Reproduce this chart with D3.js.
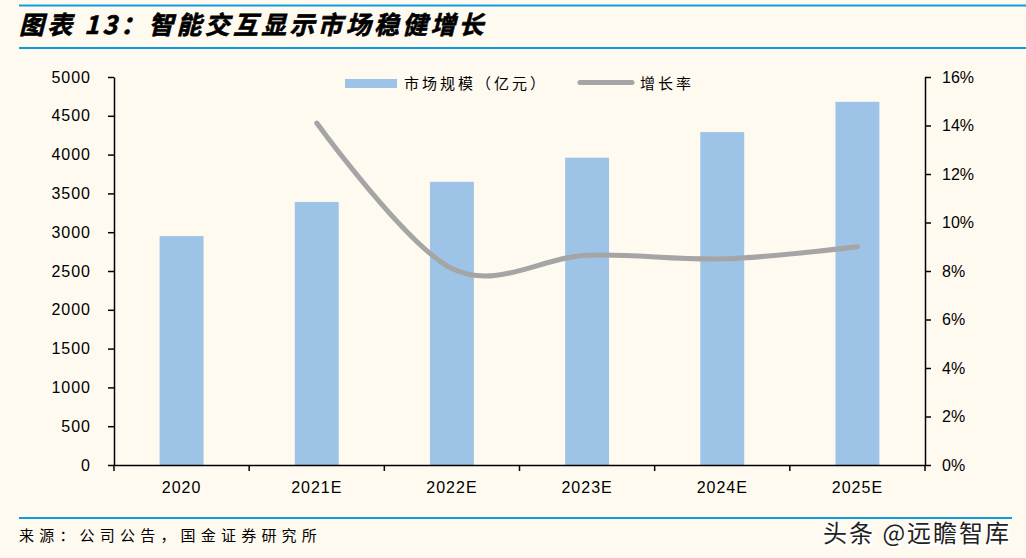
<!DOCTYPE html>
<html>
<head>
<meta charset="utf-8">
<script src="https://cdn.jsdelivr.net/npm/d3@7"></script>
<style>
  body { margin: 0; background: #fffaf0; }
  svg { display: block; }
  .axis text { font-family: "Liberation Sans", Arial, sans-serif; font-size: 16px; fill: #000; }
  .axis path, .axis line { stroke: #000; stroke-width: 1.5; }
</style>
</head>
<body>
<svg id="chart" width="1026" height="558"></svg>
<script>
var years = ["2020", "2021E", "2022E", "2023E", "2024E", "2025E"];
var marketSize = [2950, 3390, 3650, 3960, 4290, 4680];
var growthYears = ["2021E", "2022E", "2023E", "2024E", "2025E"];
var growthRate = [0.141, 0.081, 0.0865, 0.085, 0.090];
var leftTicks = [0, 500, 1000, 1500, 2000, 2500, 3000, 3500, 4000, 4500, 5000];
var rightTicks = [0, 0.02, 0.04, 0.06, 0.08, 0.10, 0.12, 0.14, 0.16];

var svg = d3.select("#chart");
var cjk = "'Noto Sans CJK SC', sans-serif";
var blue = "#0f9be0";

svg.append("rect").attr("width", 1026).attr("height", 558).attr("fill", "#fffaf0");

// header and footer rules
svg.append("line").attr("x1", 19).attr("x2", 1026).attr("y1", 5.5).attr("y2", 5.5)
    .attr("stroke", blue).attr("stroke-width", 2);
svg.append("line").attr("x1", 19).attr("x2", 1026).attr("y1", 48).attr("y2", 48)
    .attr("stroke", blue).attr("stroke-width", 2);
svg.append("line").attr("x1", 19).attr("x2", 1012).attr("y1", 518).attr("y2", 518)
    .attr("stroke", blue).attr("stroke-width", 2);

svg.append("text")
    .attr("x", 19).attr("y", 34)
    .style("font-family", cjk)
    .style("font-size", "25px")
    .style("font-weight", "bold")
    .style("font-style", "italic")
    .style("letter-spacing", "3.2px")
    .attr("stroke", "#000").attr("stroke-width", 0.6)
    .text("图表 13：智能交互显示市场稳健增长");

var x = d3.scaleBand().domain(years).range([114, 925]).padding(0);
var y = d3.scaleLinear().domain([0, 5000]).range([465, 77]);
var y2 = d3.scaleLinear().domain([0, 0.16]).range([465, 77]);
var barW = x.bandwidth() * 0.325;

svg.selectAll(".bar")
    .data(years)
    .enter()
    .append("rect")
    .attr("class", "bar")
    .attr("x", function(d) { return x(d) + (x.bandwidth() - barW) / 2; })
    .attr("width", barW)
    .attr("y", function(d, i) { return y(marketSize[i]); })
    .attr("height", function(d, i) { return 465 - y(marketSize[i]); })
    .attr("fill", "#9dc3e6");

var line = d3.line()
    .x(function(d, i) { return x(growthYears[i]) + x.bandwidth() / 2; })
    .y(function(d) { return y2(d); })
    .curve(d3.curveCardinal.tension(0));

svg.append("path")
    .datum(growthRate)
    .attr("d", line)
    .attr("fill", "none")
    .attr("stroke", "#a5a5a5")
    .attr("stroke-width", 5)
    .attr("stroke-linecap", "round");

// axes
svg.append("g")
    .attr("class", "axis")
    .attr("transform", "translate(114,0)")
    .call(d3.axisLeft(y).tickValues(leftTicks).tickSize(6).tickSizeOuter(0).tickPadding(17)
      .tickFormat(d3.format("d")))
  .selectAll("text")
    .style("letter-spacing", "1px");

svg.append("g")
    .attr("class", "axis")
    .attr("transform", "translate(925,0)")
    .call(d3.axisRight(y2).tickValues(rightTicks).tickSize(6).tickSizeOuter(0).tickPadding(11)
      .tickFormat(function(d) { return Math.round(d * 100) + "%"; }));

var xAxis = svg.append("g")
    .attr("class", "axis")
    .attr("transform", "translate(0,465)")
    .call(d3.axisBottom(x).tickSize(0).tickPadding(17));
xAxis.selectAll(".tick text").attr("dy", "0.71em").style("letter-spacing", "1px");
xAxis.selectAll(".sep")
    .data(years.concat(["end"]))
    .enter()
    .append("line")
    .attr("x1", function(d, i) { return i < years.length ? x(d) : x(years[years.length - 1]) + x.bandwidth(); })
    .attr("x2", function(d, i) { return i < years.length ? x(d) : x(years[years.length - 1]) + x.bandwidth(); })
    .attr("y1", 0).attr("y2", 6);

// legend
svg.append("rect").attr("x", 345).attr("y", 79).attr("width", 52).attr("height", 9).attr("fill", "#9dc3e6");
svg.append("text").attr("x", 404).attr("y", 89)
    .style("font-family", cjk).style("font-size", "15px").style("letter-spacing", "3px")
    .text("市场规模（亿元）");
svg.append("line").attr("x1", 580).attr("x2", 632).attr("y1", 82.5).attr("y2", 82.5)
    .attr("stroke", "#a5a5a5").attr("stroke-width", 5).attr("stroke-linecap", "round");
svg.append("text").attr("x", 640).attr("y", 89)
    .style("font-family", cjk).style("font-size", "15px").style("letter-spacing", "3px")
    .text("增长率");

// footer
svg.append("text").attr("x", 19).attr("y", 541)
    .style("font-family", cjk).style("font-size", "15px").style("letter-spacing", "5.2px")
    .text("来源：公司公告，国金证券研究所");

svg.append("text").attr("x", 824).attr("y", 543)
    .style("font-family", cjk).style("font-size", "24px").style("letter-spacing", "2px")
    .attr("fill", "#fff").attr("stroke", "#fff").attr("stroke-width", 3)
    .text("头条 @远瞻智库");
svg.append("text").attr("x", 823).attr("y", 542)
    .style("font-family", cjk).style("font-size", "24px").style("letter-spacing", "2px")
    .attr("fill", "#222")
    .text("头条 @远瞻智库");
</script>
</body>
</html>
